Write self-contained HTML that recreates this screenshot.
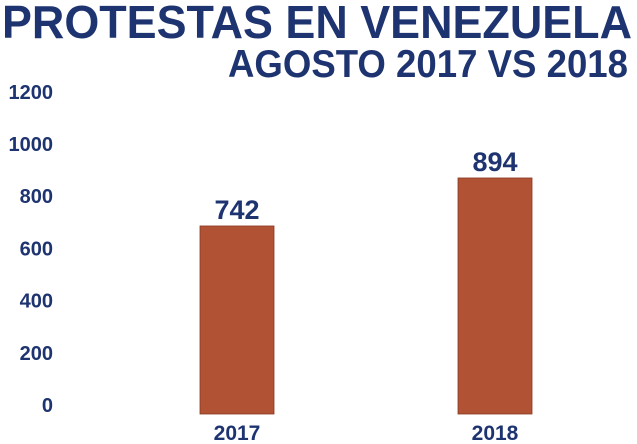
<!DOCTYPE html>
<html><head><meta charset="utf-8"><style>
html,body{margin:0;padding:0;background:#fff;}
svg{display:block;font-family:"Liberation Sans",sans-serif;font-weight:bold;}
</style></head><body>
<svg id="chart" width="637" height="444" viewBox="0 0 637 444">
<text x="2" y="38" font-size="46" fill="#1e3470" textLength="630" lengthAdjust="spacingAndGlyphs">PROTESTAS EN VENEZUELA</text>
<text x="228" y="77" font-size="39" fill="#1e3470" textLength="400" lengthAdjust="spacingAndGlyphs">AGOSTO 2017 VS 2018</text>
<g id="ticks"></g><g id="bars"></g>
</svg>
<script>
const categories = ["2017", "2018"];
const values = [742, 894];
const tickValues = [0, 200, 400, 600, 800, 1000, 1200];
const ns = "http://www.w3.org/2000/svg";
function yTick(v){ return 405 - v * 0.261; }
function yBar(v){ return 460.3 - v * 0.3158; }
const baseY = 414;
function xCenter(i){ return 237 + i * 258; }
const tg = document.getElementById('ticks');
tickValues.forEach(v => {
  const t = document.createElementNS(ns, 'text');
  
  
  t.setAttribute('x', 53); t.setAttribute('y', yTick(v) + 7);
  t.setAttribute('text-anchor', 'end'); t.setAttribute('font-size', '20');
  t.setAttribute('fill', '#1e3470');
  t.textContent = String(v);
  tg.appendChild(t);
});
const bg = document.getElementById('bars');
categories.forEach((c, i) => {
  const cx = xCenter(i), top = Math.min(yBar(values[i]), baseY);
  const r = document.createElementNS(ns, 'rect');
  
  
  r.setAttribute('x', cx - 37); r.setAttribute('y', top);
  r.setAttribute('width', 74); r.setAttribute('height', baseY - top);
  r.setAttribute('fill', '#b05233'); r.setAttribute('stroke', '#8a3a22'); r.setAttribute('stroke-width', '0.8');
  bg.appendChild(r);
  const l = document.createElementNS(ns, 'text');
  
  
  l.setAttribute('x', cx); l.setAttribute('y', top - 7);
  l.setAttribute('text-anchor', 'middle'); l.setAttribute('font-size', '27');
  l.setAttribute('fill', '#1e3470');
  l.textContent = String(values[i]);
  bg.appendChild(l);
  const x = document.createElementNS(ns, 'text');
  
  
  x.setAttribute('x', cx); x.setAttribute('y', 440);
  x.setAttribute('text-anchor', 'middle'); x.setAttribute('font-size', '21');
  x.setAttribute('fill', '#1e3470');
  x.textContent = c;
  bg.appendChild(x);
});
</script>
</body></html>
